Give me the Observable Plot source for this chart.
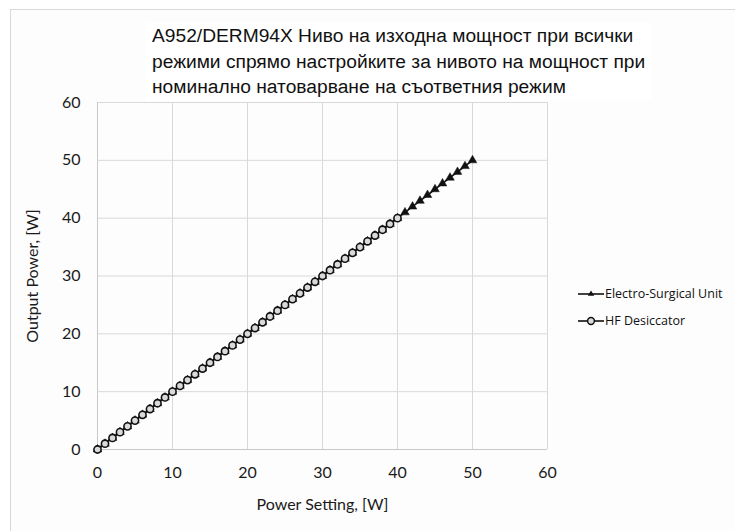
<!DOCTYPE html>
<html>
<head>
<meta charset="utf-8">
<script src="https://cdn.jsdelivr.net/npm/d3@7"></script>
<script src="https://cdn.jsdelivr.net/npm/@observablehq/plot@0.6"></script>
<style>
  html, body { margin: 0; padding: 0; background: #ffffff; }
  #wrap { position: relative; width: 735px; height: 531px; overflow: hidden; }
  #panel { position: absolute; left: 10px; top: 9px; width: 740px; height: 540px;
           border-left: 1px solid #d9d9d9; border-top: 1px solid #d9d9d9; background: #fdfdfd; }
  #chart { position: absolute; left: 0; top: 0; }
  #title { position: absolute; left: 146px; top: 22px; padding: 1px 6px; background: #ffffff;
           font-family: "Liberation Sans", Arial, sans-serif; font-size: 19.2px; line-height: 25.5px; color: #111; }
  #legend { position: absolute; left: 578px; top: 280px; font-family: "Open Sans", Lato, sans-serif;
            font-size: 12.5px; color: #111; }
  #legend .row { display: flex; align-items: center; height: 27px; }
  #legend svg { margin-right: 1px; }
</style>
</head>
<body>
<div id="wrap">
  <div id="panel"></div>
  <div id="chart"></div>
  <div id="title"></div>
  <div id="legend"></div>
</div>
<script>
// ---- data ----
const titleLines = [
  "A952/DERM94X Ниво на изходна мощност при всички",
  "режими спрямо настройките за нивото на мощност при",
  "номинално натоварване на съответния режим"
];
const seriesNames = ["Electro-Surgical Unit", "HF Desiccator"];
const esuSetting = [0,1,2,3,4,5,6,7,8,9,10,11,12,13,14,15,16,17,18,19,20,21,22,23,24,25,26,27,28,29,30,31,32,33,34,35,36,37,38,39,40,41,42,43,44,45,46,47,48,49,50];
const esuOutput  = [0,1,2,3,4,5,6,7,8,9,10,11,12,13,14,15,16,17,18,19,20,21,22,23,24,25,26,27,28,29,30,31,32,33,34,35,36,37,38,39,40,41,42,43,44,45,46,47,48,49,50];
const hfSetting  = [0,1,2,3,4,5,6,7,8,9,10,11,12,13,14,15,16,17,18,19,20,21,22,23,24,25,26,27,28,29,30,31,32,33,34,35,36,37,38,39,40];
const hfOutput   = [0,1,2,3,4,5,6,7,8,9,10,11,12,13,14,15,16,17,18,19,20,21,22,23,24,25,26,27,28,29,30,31,32,33,34,35,36,37,38,39,40];
const xTicks = [0,10,20,30,40,50,60];
const yTicks = [0,10,20,30,40,50,60];
const xLabel = "Power Setting, [W]";
const yLabel = "Output Power, [W]";

const esu = esuSetting.map((s, i) => ({x: s, y: esuOutput[i]}));
const hf = hfSetting.map((s, i) => ({x: s, y: hfOutput[i]}));

const tickFont = "Lato, 'Open Sans', sans-serif";

const chart = Plot.plot({
  width: 735,
  height: 531,
  marginLeft: 97,
  marginRight: 188,
  marginTop: 102,
  marginBottom: 82,
  style: {background: "transparent", fontFamily: tickFont, fontSize: "16px", color: "#1a1a1a"},
  x: {domain: [0, 60], ticks: xTicks},
  y: {domain: [0, 60], ticks: yTicks},
  marks: [
    Plot.gridX(xTicks, {stroke: "#d9d9d9", strokeOpacity: 1, strokeWidth: 1}),
    Plot.gridY(yTicks, {stroke: "#d9d9d9", strokeOpacity: 1, strokeWidth: 1}),
    Plot.ruleX([0], {stroke: "#c8c8c8"}),
    Plot.ruleY([0], {stroke: "#c8c8c8"}),
    Plot.axisX({ticks: xTicks, tickSize: 0, tickPadding: 17, label: xLabel, labelAnchor: "center", labelArrow: "none", labelOffset: 60, fontSize: 16}),
    Plot.axisY({ticks: yTicks, tickSize: 0, tickPadding: 17, label: yLabel, labelAnchor: "center", labelArrow: "none", labelOffset: 71, fontSize: 16}),
    Plot.line(esu, {x: "x", y: "y", stroke: "#111", strokeWidth: 1.6}),
    Plot.dot(esu, {x: "x", y: "y", symbol: "triangle", r: 3.2, fill: "#111", stroke: "#111", strokeWidth: 0.5}),
    Plot.line(hf, {x: "x", y: "y", stroke: "#111", strokeWidth: 1.6}),
    Plot.dot(hf, {x: "x", y: "y", symbol: "circle", r: 3.6, fill: "#dadada", stroke: "#111", strokeWidth: 1.6})
  ]
});
document.getElementById("chart").appendChild(chart);

document.getElementById("title").innerHTML = titleLines.join("<br>");

const legend = document.getElementById("legend");
seriesNames.forEach((name, i) => {
  const row = document.createElement("div");
  row.className = "row";
  const marker = i === 0
    ? '<path d="M13,3.4 L16.2,8.8 L9.8,8.8 Z" fill="#111"/>'
    : '<circle cx="13" cy="7" r="3.4" fill="#dadada" stroke="#111" stroke-width="1.5"/>';
  row.innerHTML = '<svg width="26" height="14"><line x1="0" y1="7" x2="26" y2="7" stroke="#111" stroke-width="1.6"/>' + marker + '</svg><span>' + name + '</span>';
  legend.appendChild(row);
});
</script>
</body>
</html>
